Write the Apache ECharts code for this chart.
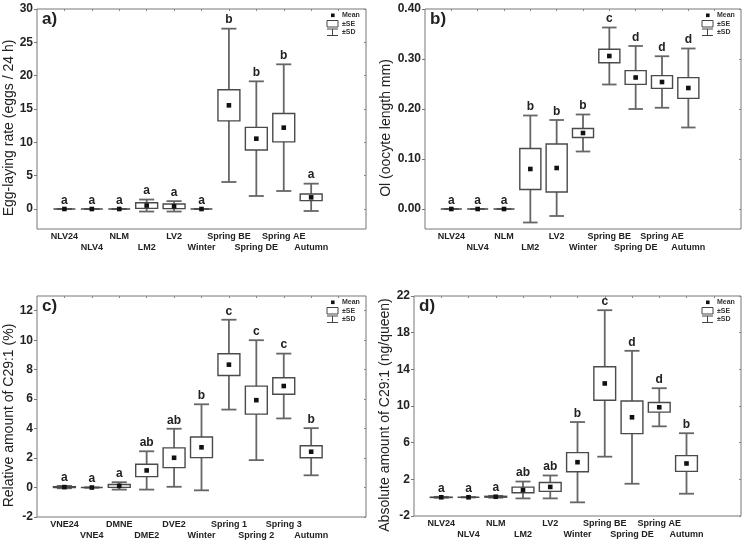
<!DOCTYPE html>
<html><head><meta charset="utf-8">
<script src="https://cdn.jsdelivr.net/npm/echarts@6/dist/echarts.min.js"></script>
<style>html,body{margin:0;padding:0;background:#fff}#c{width:746px;height:544px}</style>
</head><body><div id="c"></div>
<script>
// ---- categories ----
const catsAB = ['NLV24','NLV4','NLM','LM2','LV2','Winter','Spring BE','Spring DE','Spring AE','Autumn'];
const catsC  = ['VNE24','VNE4','DMNE','DME2','DVE2','Winter','Spring 1','Spring 2','Spring 3','Autumn'];
const catsD  = ['NLV24','NLV4','NLM','LM2','LV2','Winter','Spring BE','Spring DE','Spring AE','Autumn'];

// ---- panel a: egg-laying rate ----
const meanA = [0, 0, 0, 0.52, 0.4, 0, 15.55, 10.55, 12.2, 1.75];
const seA   = [0, 0, 0, 0.42, 0.35, 0, 2.33, 1.7, 2.13, 0.5];
const sdA   = [0, 0, 0, 0.9, 0.78, 0, 11.5, 8.6, 9.5, 2.05];
const letA  = ['a','a','a','a','a','a','b','b','b','a'];

// ---- panel b: oocyte length ----
const meanB = [0, 0, 0, 0.080, 0.082, 0.152, 0.306, 0.263, 0.254, 0.242];
const seB   = [0, 0, 0, 0.041, 0.048, 0.009, 0.0135, 0.0137, 0.0127, 0.0207];
const sdB   = [0, 0, 0, 0.107, 0.096, 0.037, 0.057, 0.063, 0.0515, 0.079];
const letB  = ['a','a','a','b','b','b','c','d','d','d'];

// ---- panel c: relative amount C29:1 ----
const meanC = [0.03, 0, 0.11, 1.16, 2.02, 2.73, 8.34, 5.93, 6.89, 2.43];
const seC   = [0.03, 0, 0.1, 0.42, 0.67, 0.7, 0.74, 0.95, 0.56, 0.41];
const sdC   = [0.08, 0, 0.25, 1.3, 1.97, 2.92, 3.05, 4.07, 2.2, 1.6];
const letC  = ['a','a','a','ab','ab','b','c','c','c','b'];

// ---- panel d: absolute amount C29:1 ----
const meanD = [0.04, 0.04, 0.1, 0.84, 1.17, 3.87, 12.46, 8.77, 9.86, 3.73];
const seD   = [0.02, 0, 0.05, 0.31, 0.48, 1.04, 1.83, 1.78, 0.53, 0.86];
const sdD   = [0.05, 0, 0.1, 0.92, 1.25, 4.38, 7.99, 7.25, 2.08, 3.3];
const letD  = ['a','a','a','ab','ab','b','c','d','d','b'];

// ---- tick labels ----
const ticksA = [0, 5, 10, 15, 20, 25, 30];
const ticksB = [0, 0.1, 0.2, 0.3, 0.4];
const ticksC = [-2, 0, 2, 4, 6, 8, 10, 12];
const ticksD = [-2, 2, 6, 10, 14, 18, 22];

const panels = [
  {tag:'a)', cats:catsAB, mean:meanA, se:seA, sd:sdA, let:letA, ticks:ticksA, min:-3, max:30, dec:0,
   name:'Egg-laying rate (eggs / 24 h)', grid:{left:37, top:9, width:329, height:220}, gap:18},
  {tag:'b)', cats:catsAB, mean:meanB, se:seB, sd:sdB, let:letB, ticks:ticksB, min:-0.04, max:0.40, dec:2,
   name:'Ol (oocyte length mm)', grid:{left:425, top:9, width:316, height:220}, gap:32},
  {tag:'c)', cats:catsC, mean:meanC, se:seC, sd:sdC, let:letC, ticks:ticksC, min:-2, max:13, dec:0,
   name:'Relative amount of C29:1 (%)', grid:{left:37, top:296, width:329, height:221}, gap:18},
  {tag:'d)', cats:catsD, mean:meanD, se:seD, sd:sdD, let:letD, ticks:ticksD, min:-2, max:22, dec:0,
   name:'Absolute amount of C29:1 (ng/queen)', grid:{left:414, top:296, width:327, height:220}, gap:22}
];

const row1 = [1,3,5,7,9];
const row2 = [2,4,6,8,10];
const topTicks = [1,2,3,4,5,6,7,8,9,10,11];
const WH = '#666', BOX = '#4a4a4a';
const FF = 'Liberation Sans, Arial, sans-serif';

const option = {
  backgroundColor:'#fff',
  animation:false,
  grid:[], xAxis:[], yAxis:[], series:[], graphic:[]
};

function labelAxis(i, p, vals, margin) {
  return {
    type:'value', gridIndex:i, min:0, max:12, position:'bottom',
    axisLine:{show:false, onZero:false}, axisTick:{show:false}, splitLine:{show:false},
    axisLabel:{customValues:vals, margin:margin, fontSize:9, fontWeight:'bold', color:'#222', fontFamily:FF,
      formatter:(v) => p.cats[Math.round(v) - 1] || ''}
  };
}

panels.forEach((p, i) => {
  option.grid.push(Object.assign({show:true, borderColor:'#777', borderWidth:1, backgroundColor:'transparent'}, p.grid));
  const xi = option.xAxis.length;
  option.xAxis.push(labelAxis(i, p, row1, 3));
  option.xAxis.push(labelAxis(i, p, row2, 13.6));
  option.xAxis.push({
    type:'value', gridIndex:i, min:0, max:12, position:'top',
    axisLine:{show:false, onZero:false}, splitLine:{show:false}, axisLabel:{show:false},
    axisTick:{show:true, inside:true, length:2, customValues:topTicks, lineStyle:{color:'#888'}}
  });
  const yi = option.yAxis.length;
  option.yAxis.push({
    type:'value', gridIndex:i, min:p.min, max:p.max, position:'left',
    name:p.name, nameLocation:'middle', nameGap:p.gap,
    nameTextStyle:{fontSize:14, color:'#222', fontFamily:FF, padding:[0,18,0,0]},
    axisLine:{show:false, onZero:false}, splitLine:{show:false},
    axisTick:{show:true, length:3, customValues:p.ticks, lineStyle:{color:'#777'}},
    axisLabel:{customValues:p.ticks, margin:4, fontSize:12, fontWeight:'bold', color:'#222',
      fontFamily:FF, formatter:(v) => Number(v).toFixed(p.dec)}
  });
  option.yAxis.push({
    type:'value', gridIndex:i, min:p.min, max:p.max, position:'right',
    axisLine:{show:false, onZero:false}, splitLine:{show:false}, axisLabel:{show:false},
    axisTick:{show:true, inside:true, length:2, customValues:p.ticks, lineStyle:{color:'#888'}}
  });

  const data = p.mean.map((m, k) => [k + 1, m, p.se[k], p.sd[k]]);
  option.series.push({
    type:'custom', xAxisIndex:xi, yAxisIndex:yi, clip:false, data:data, z:5,
    renderItem:(params, api) => {
      const x = api.value(0), m = api.value(1), se = api.value(2), sd = api.value(3);
      const top = api.coord([x, m + sd]), bot = api.coord([x, m - sd]);
      const sT = api.coord([x, m + se]), sB = api.coord([x, m - se]);
      const c = api.coord([x, m]);
      const slot = api.size([1, 0])[0];
      const bw = slot * 0.8, cw = slot * 0.55;
      const ls = {stroke:WH, lineWidth:1.8};
      return {type:'group', children:[
        {type:'line', shape:{x1:c[0], y1:top[1], x2:c[0], y2:bot[1]}, style:ls},
        {type:'line', shape:{x1:c[0]-cw/2, y1:top[1], x2:c[0]+cw/2, y2:top[1]}, style:ls},
        {type:'line', shape:{x1:c[0]-cw/2, y1:bot[1], x2:c[0]+cw/2, y2:bot[1]}, style:ls},
        {type:'rect', shape:{x:c[0]-bw/2, y:sT[1], width:bw, height:sB[1]-sT[1]},
          style:{fill:'#fff', stroke:BOX, lineWidth:1.4}},
        {type:'rect', shape:{x:c[0]-2.3, y:c[1]-2.3, width:4.6, height:4.6}, style:{fill:'#111'}},
        {type:'text', x:c[0], y:top[1]-2.5, style:{text:p.let[params.dataIndex], align:'center', verticalAlign:'bottom',
          font:'bold 12px "Liberation Sans", Arial, sans-serif', fill:'#222'}}
      ]};
    }
  });

  const g = p.grid, R = g.left + g.width, T = g.top;
  const lf = 'bold 7px "Liberation Sans", Arial, sans-serif';
  option.graphic.push(
    {type:'text', x:g.left + 5, y:T + 2, style:{text:p.tag, font:'bold 17px "Liberation Sans", Arial, sans-serif', fill:'#222'}},
    {type:'rect', shape:{x:R-35, y:T+4.5, width:3.6, height:3.6}, style:{fill:'#111'}},
    {type:'text', x:R-24, y:T+6.5, style:{text:'Mean', font:lf, fill:'#333', verticalAlign:'middle'}},
    {type:'rect', shape:{x:R-39, y:T+11.5, width:11, height:6.5}, style:{fill:'#fff', stroke:'#444', lineWidth:1}},
    {type:'text', x:R-24, y:T+14.7, style:{text:'±SE', font:lf, fill:'#333', verticalAlign:'middle'}},
    {type:'line', shape:{x1:R-39, y1:T+20, x2:R-28, y2:T+20}, style:{stroke:'#444', lineWidth:1}},
    {type:'line', shape:{x1:R-33.5, y1:T+20, x2:R-33.5, y2:T+26.5}, style:{stroke:'#444', lineWidth:1}},
    {type:'line', shape:{x1:R-39, y1:T+26.5, x2:R-28, y2:T+26.5}, style:{stroke:'#444', lineWidth:1}},
    {type:'text', x:R-24, y:T+23.5, style:{text:'±SD', font:lf, fill:'#333', verticalAlign:'middle'}}
  );
});

echarts.init(document.getElementById('c')).setOption(option);
</script>
</body></html>
